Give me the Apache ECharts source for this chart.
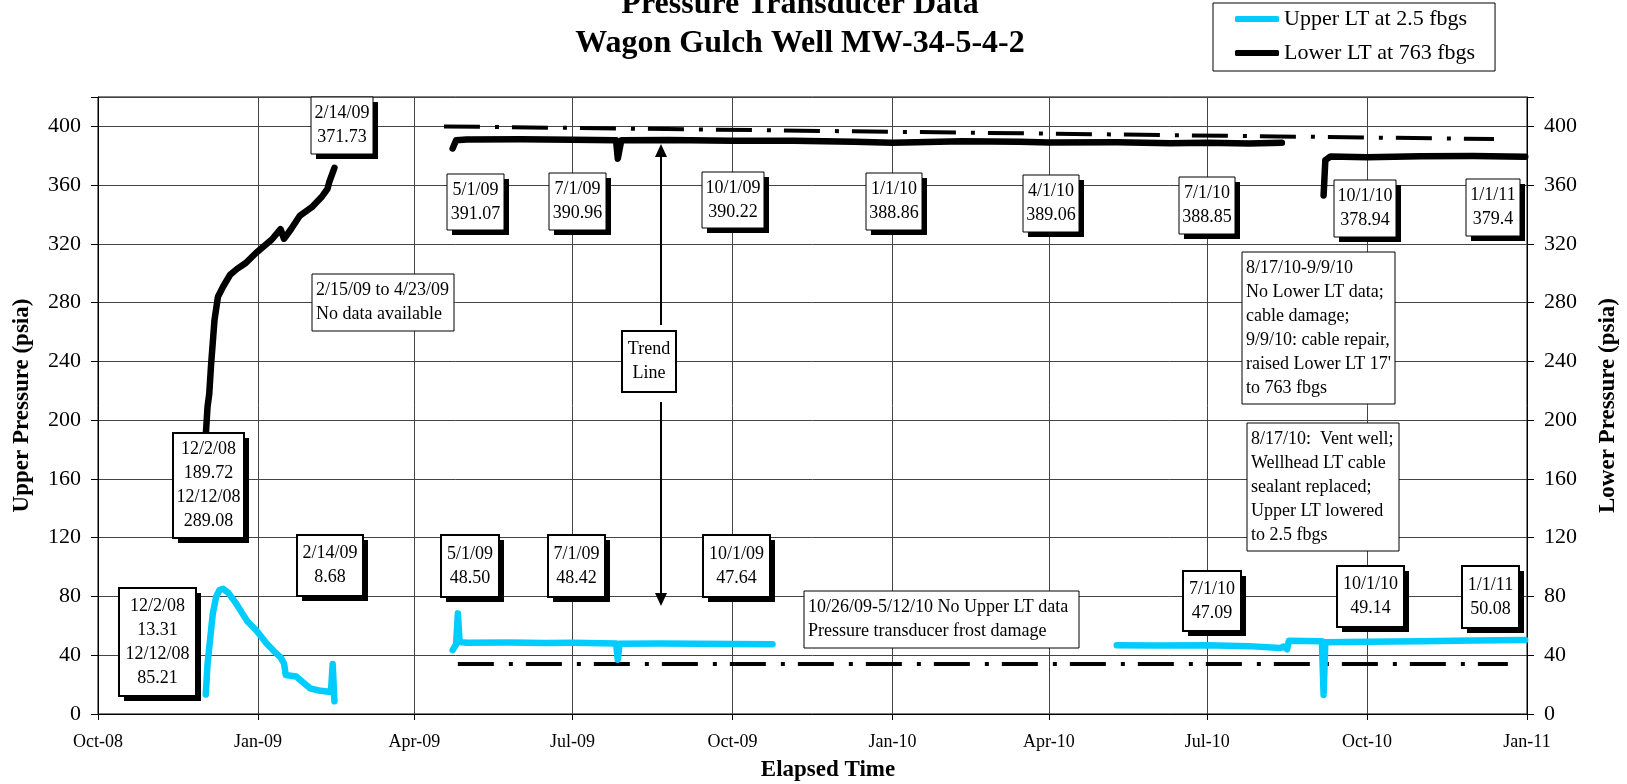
<!DOCTYPE html>
<html>
<head>
<meta charset="utf-8">
<title>Pressure Transducer Data</title>
<script src="https://cdn.jsdelivr.net/npm/echarts@6/dist/echarts.min.js"></script>
<style>
  html, body { margin: 0; padding: 0; background: #fff; }
  #chart { width: 1627px; height: 784px; }
</style>
</head>
<body>
<div id="chart"></div>
<script>
// Upper LT (2.5 fbgs) - three logged spans
const upperDec08 = [
  ['2008-12-02', 13.31], ['2008-12-03', 34], ['2008-12-06', 68], ['2008-12-08', 80],
  ['2008-12-10', 84.5], ['2008-12-12', 85.21], ['2008-12-15', 82.5], ['2008-12-19', 76],
  ['2008-12-23', 68.5], ['2008-12-26', 63], ['2008-12-31', 57], ['2009-01-06', 48],
  ['2009-01-10', 43], ['2009-01-14', 38.5], ['2009-01-16', 34.5], ['2009-01-17', 26.5],
  ['2009-01-23', 25.5], ['2009-01-27', 21.5], ['2009-01-31', 17.5], ['2009-02-05', 16],
  ['2009-02-12', 15], ['2009-02-13', 34], ['2009-02-14', 8.68]
]
const upperApr09 = [
  ['2009-04-23', 43.5], ['2009-04-25', 47.5], ['2009-04-26', 68.5], ['2009-04-27', 49],
  ['2009-05-01', 48.5], ['2009-05-25', 48.6], ['2009-06-15', 48.3], ['2009-07-01', 48.42],
  ['2009-07-26', 48], ['2009-07-27', 37], ['2009-07-28', 47.8], ['2009-08-20', 48],
  ['2009-09-10', 47.8], ['2009-10-01', 47.64], ['2009-10-24', 47.5]
]
const upperMay10 = [
  ['2010-05-10', 46.8], ['2010-06-01', 46.7], ['2010-07-01', 46.8], ['2010-07-25', 46.2],
  ['2010-08-12', 45], ['2010-08-14', 46], ['2010-08-16', 44], ['2010-08-17', 49.8],
  ['2010-09-05', 49.6], ['2010-09-06', 13], ['2010-09-07', 48.8], ['2010-10-01', 49.14],
  ['2010-11-01', 49.6], ['2010-12-01', 50], ['2010-12-31', 50.3]
]

// Lower LT (763 fbgs)
const lowerDec08 = [
  ['2008-12-02', 189.72], ['2008-12-03', 209], ['2008-12-04', 218], ['2008-12-05', 237],
  ['2008-12-07', 268], ['2008-12-09', 284], ['2008-12-12', 291], ['2008-12-16', 299],
  ['2008-12-20', 303], ['2008-12-25', 307], ['2008-12-31', 314], ['2009-01-09', 323],
  ['2009-01-14', 330], ['2009-01-16', 323.5], ['2009-01-20', 330], ['2009-01-25', 339],
  ['2009-02-01', 345], ['2009-02-07', 352.5], ['2009-02-10', 357.5], ['2009-02-11', 362],
  ['2009-02-14', 371.73]
]
const lowerApr09 = [
  ['2009-04-23', 385], ['2009-04-25', 390.5], ['2009-05-01', 391.07], ['2009-06-01', 391.3],
  ['2009-07-01', 390.96], ['2009-07-26', 390.6], ['2009-07-27', 378], ['2009-07-29', 390.5],
  ['2009-08-25', 390.8], ['2009-10-01', 390.22], ['2009-11-05', 390.3], ['2009-12-10', 389.5],
  ['2010-01-01', 388.86], ['2010-02-10', 389.8], ['2010-03-15', 389.5], ['2010-04-01', 389.06],
  ['2010-05-10', 389.2], ['2010-06-10', 388.6], ['2010-07-01', 388.85], ['2010-07-25', 388.3],
  ['2010-08-13', 388.8]
]
const lowerSep10 = [
  ['2010-09-06', 353], ['2010-09-07', 377], ['2010-09-10', 379.5], ['2010-10-01', 378.94],
  ['2010-11-01', 379.6], ['2010-12-01', 379.8], ['2010-12-31', 379.4]
]

// dash-dot trend lines
const upperTrend = [['2009-04-26', 34], ['2010-12-21', 34]]
const lowerTrend = [['2009-04-18', 400], ['2010-12-13', 391.4]]

const monthNames = ['Jan', 'Feb', 'Mar', 'Apr', 'May', 'Jun', 'Jul', 'Aug', 'Sep', 'Oct', 'Nov', 'Dec']
const upperName = 'Upper LT at 2.5 fbgs'
const lowerName = 'Lower LT at 763 fbgs'

// text boxes: [x, y, w, h] in px
const notes = [
  { lines: ['2/14/09', '371.73'], box: [311, 97, 62, 57], shadow: true },
  { lines: ['2/15/09 to 4/23/09', 'No data available'], box: [312, 274, 142, 57], left: true },
  { lines: ['5/1/09', '391.07'], box: [447, 174, 57, 56], shadow: true },
  { lines: ['7/1/09', '390.96'], box: [549, 173, 57, 57], shadow: true },
  { lines: ['10/1/09', '390.22'], box: [702, 172, 62, 56], shadow: true },
  { lines: ['1/1/10', '388.86'], box: [866, 173, 56, 57], shadow: true },
  { lines: ['4/1/10', '389.06'], box: [1023, 175, 56, 57], shadow: true },
  { lines: ['7/1/10', '388.85'], box: [1179, 177, 56, 57], shadow: true },
  { lines: ['10/1/10', '378.94'], box: [1334, 180, 62, 57], shadow: true },
  { lines: ['1/1/11', '379.4'], box: [1466, 179, 54, 57], shadow: true },
  { lines: ['8/17/10-9/9/10', 'No Lower LT data;', 'cable damage;', '9/9/10: cable repair,', "raised Lower LT 17'", 'to 763 fbgs'], box: [1242, 252, 153, 152], left: true },
  { lines: ['8/17/10:  Vent well;', 'Wellhead LT cable', 'sealant replaced;', 'Upper LT lowered', 'to 2.5 fbgs'], box: [1247, 423, 152, 128], left: true },
  { lines: ['Trend', 'Line'], box: [622, 331, 54, 61], bw: 2 },
  { lines: ['12/2/08', '189.72', '12/12/08', '289.08'], box: [173, 433, 71, 105], shadow: true, bw: 2 },
  { lines: ['12/2/08', '13.31', '12/12/08', '85.21'], box: [119, 588, 77, 108], shadow: true, bw: 2 },
  { lines: ['2/14/09', '8.68'], box: [297, 535, 66, 61], shadow: true, bw: 2 },
  { lines: ['5/1/09', '48.50'], box: [441, 535, 58, 62], shadow: true, bw: 2 },
  { lines: ['7/1/09', '48.42'], box: [548, 535, 57, 62], shadow: true, bw: 2 },
  { lines: ['10/1/09', '47.64'], box: [703, 535, 67, 62], shadow: true, bw: 2 },
  { lines: ['10/26/09-5/12/10 No Upper LT data', 'Pressure transducer frost damage'], box: [804, 591, 275, 57], left: true },
  { lines: ['7/1/10', '47.09'], box: [1183, 571, 58, 60], shadow: true, bw: 2 },
  { lines: ['10/1/10', '49.14'], box: [1337, 566, 67, 61], shadow: true, bw: 2 },
  { lines: ['1/1/11', '50.08'], box: [1462, 566, 57, 62], shadow: true, bw: 2 },
]

const FONT = '"Liberation Serif", "Times New Roman", serif'
const DAY = 86400000

const graphics = []
notes.forEach((n) => {
  const [x, y, w, h] = n.box
  if (n.shadow) {
    graphics.push({ type: 'rect', z: 100, shape: { x: x + 5, y: y + 5, width: w, height: h }, style: { fill: '#000' } })
  }
  graphics.push({ type: 'rect', z: 101, shape: { x, y, width: w, height: h }, style: { fill: '#fff', stroke: '#000', lineWidth: n.bw || 1 } })
  graphics.push({
    type: 'text',
    z: 102,
    x: n.left ? x + 4 : x + w / 2,
    y: y + h / 2,
    style: {
      text: n.lines.join('\n'),
      font: '18px ' + FONT,
      fill: '#000',
      align: n.left ? 'left' : 'center',
      textAlign: n.left ? 'left' : 'center',
      verticalAlign: 'middle',
      textVerticalAlign: 'middle',
      lineHeight: 24,
    },
  })
})

// arrows from the "Trend Line" box
graphics.push(
  { type: 'line', z: 100, shape: { x1: 661, y1: 325, x2: 661, y2: 155 }, style: { stroke: '#000', lineWidth: 2 } },
  { type: 'polygon', z: 100, shape: { points: [[661, 144], [655, 157], [667, 157]] }, style: { fill: '#000' } },
  { type: 'line', z: 100, shape: { x1: 661, y1: 402, x2: 661, y2: 595 }, style: { stroke: '#000', lineWidth: 2 } },
  { type: 'polygon', z: 100, shape: { points: [[661, 606], [655, 593], [667, 593]] }, style: { fill: '#000' } },
  {
    type: 'text', z: 100, x: 828, y: 770,
    style: { text: 'Elapsed Time', font: 'bold 23px ' + FONT, fill: '#000', align: 'center', textAlign: 'center', verticalAlign: 'middle', textVerticalAlign: 'middle' },
  },
)

function dataLine(name, data, color, axis) {
  return {
    name,
    type: 'line',
    yAxisIndex: axis,
    data,
    symbol: 'none',
    z: 3,
    itemStyle: { color },
    lineStyle: { color, width: 6.5, cap: 'round', join: 'round' },
  }
}

function trendLine(data) {
  return {
    name: 'trend',
    type: 'line',
    data,
    symbol: 'none',
    z: 2,
    itemStyle: { color: '#000' },
    lineStyle: { color: '#000', width: 4, type: [36, 15, 4, 13] },
  }
}

const yAxisBase = {
  type: 'value',
  min: 0,
  max: 420,
  interval: 40,
  axisLine: { show: true, lineStyle: { color: '#000' } },
  axisTick: { show: true, length: 7, lineStyle: { color: '#000' } },
  axisLabel: {
    color: '#000',
    fontSize: 22,
    fontFamily: FONT,
    margin: 17,
    formatter: (v) => (v > 400 ? '' : String(v)),
  },
  nameLocation: 'middle',
  nameRotate: 90,
  nameTextStyle: { color: '#000', fontSize: 23, fontWeight: 'bold', fontFamily: FONT },
}

const chart = echarts.init(document.getElementById('chart'))

chart.setOption({
  animation: false,
  textStyle: { fontFamily: FONT },
  title: {
    text: 'Pressure Transducer Data\nWagon Gulch Well MW-34-5-4-2',
    left: 800,
    top: -15,
    textAlign: 'center',
    padding: 0,
    textStyle: { color: '#000', fontSize: 32, fontWeight: 'bold', fontFamily: FONT, lineHeight: 39 },
  },
  legend: {
    data: [upperName, lowerName],
    orient: 'vertical',
    left: 1213,
    top: 3,
    padding: [5, 20, 7, 22],
    itemGap: 12,
    itemWidth: 44,
    itemHeight: 6,
    icon: 'roundRect',
    selectedMode: false,
    backgroundColor: '#fff',
    borderColor: '#000',
    borderWidth: 1,
    textStyle: { color: '#000', fontSize: 22, fontFamily: FONT },
  },
  grid: {
    left: 98,
    right: 100,
    top: 97,
    bottom: 70,
    outerBoundsMode: 'none',
    show: true,
    borderColor: '#000',
    borderWidth: 1,
  },
  xAxis: {
    type: 'time',
    min: new Date(2008, 9, 1).getTime(),
    max: new Date(2011, 0, 1).getTime(),
    splitNumber: 9,
    minInterval: 91 * DAY,
    maxInterval: 92 * DAY,
    axisLine: { lineStyle: { color: '#000' } },
    axisTick: { show: true, length: 6, lineStyle: { color: '#000' } },
    splitLine: { show: true, lineStyle: { color: '#444', width: 1 } },
    axisLabel: {
      color: '#000',
      fontSize: 18,
      fontFamily: FONT,
      margin: 19,
      hideOverlap: false,
      showMinLabel: true,
      showMaxLabel: true,
      formatter: (v) => {
        const d = new Date(v)
        return monthNames[d.getMonth()] + '-' + String(d.getFullYear()).slice(2)
      },
    },
  },
  yAxis: [
    Object.assign({}, yAxisBase, {
      name: 'Upper Pressure (psia)',
      position: 'left',
      nameGap: 64,
      splitLine: { show: true, lineStyle: { color: '#444', width: 1 } },
    }),
    Object.assign({}, yAxisBase, {
      name: 'Lower Pressure (psia)',
      position: 'right',
      nameGap: 70,
      splitLine: { show: false },
    }),
  ],
  series: [
    trendLine(upperTrend),
    trendLine(lowerTrend),
    dataLine(upperName, upperDec08, '#00CCFF', 0),
    dataLine(upperName, upperApr09, '#00CCFF', 0),
    dataLine(upperName, upperMay10, '#00CCFF', 0),
    dataLine(lowerName, lowerDec08, '#000', 1),
    dataLine(lowerName, lowerApr09, '#000', 1),
    dataLine(lowerName, lowerSep10, '#000', 1),
  ],
  graphic: graphics,
})
</script>
</body>
</html>
